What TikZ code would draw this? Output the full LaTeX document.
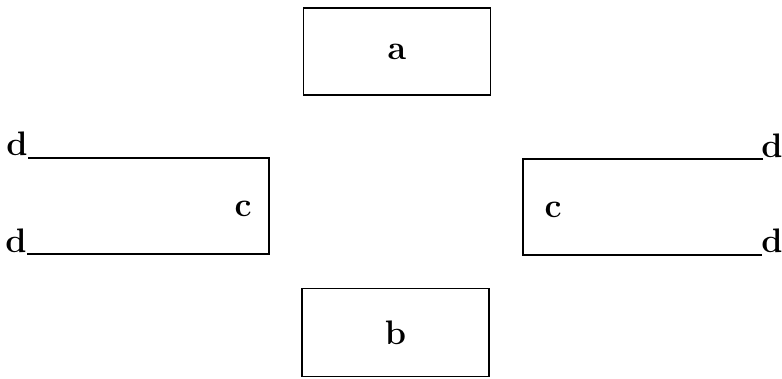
\documentclass[tikz,border=0pt]{standalone}
\begin{document}
\begin{tikzpicture}[x=1pt,y=-1pt,line width=1.8pt,
  lbl/.style={font=\fontsize{34}{36}\selectfont\bfseries,inner sep=0pt},
  box/.style={draw,minimum width=187pt,minimum height=87pt,inner sep=0pt}]
\useasboundingbox (0,0) rectangle (782,378);
% boxes
\node[box,lbl] (a) at (397,51.5) {a};
\node[box,lbl,minimum height=88pt] (b) at (395.5,332.5) {b};
% left bracket
\coordinate (lt1) at (28,158);
\coordinate (lt2) at (269,158);
\coordinate (lb2) at (269,254);
\coordinate (lb1) at (27,254);
\draw (lt1) -- (lt2) -- (lb2) -- (lb1);
\node[lbl] (ldt) at (17,144) {d};
\node[lbl] (ldb) at (16,241) {d};
\node[lbl] (lc) at (243,209) {c};
% right bracket
\coordinate (rt2) at (763,159);
\coordinate (rt1) at (523,159);
\coordinate (rb1) at (523,255);
\coordinate (rb2) at (762,255);
\draw (rt2) -- (rt1) -- (rb1) -- (rb2);
\node[lbl] (rdt) at (772,146) {d};
\node[lbl] (rdb) at (772,241) {d};
\node[lbl] (rc) at (553,210) {c};
\end{tikzpicture}
\end{document}
